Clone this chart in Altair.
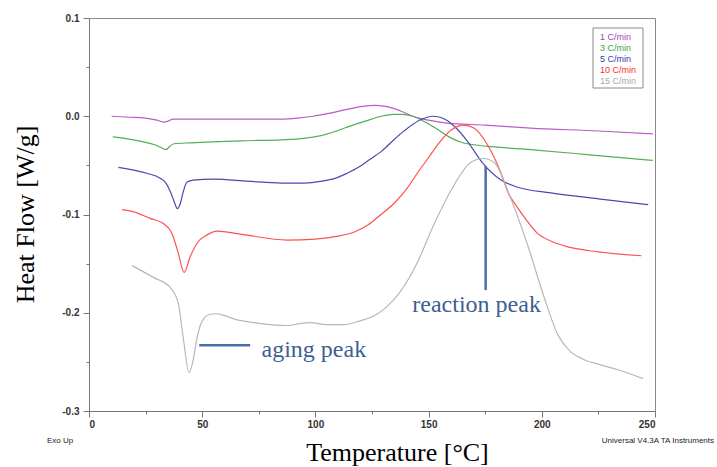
import altair as alt
import pandas as pd

series = ["1 C/min", "3 C/min", "5 C/min", "10 C/min", "15 C/min"]
line_colors = ["#b95cc8", "#55ad55", "#4a4aae", "#ff5050", "#b8b8b8"]
legend_colors = ["#a840b8", "#3fa03f", "#3838a8", "#ff2a2a", "#a8a8a8"]

t1 = [10, 18, 25, 30, 33, 35, 37, 50, 70, 85, 92, 99, 106, 114, 121, 126, 131, 137, 143, 150, 158, 175, 195, 225, 249]
h1 = [0.0, -0.001, -0.002, -0.004, -0.006, -0.005, -0.003, -0.003, -0.003, -0.003, -0.002, 0.0, 0.003, 0.007, 0.010, 0.011, 0.010, 0.006, 0.0, -0.004, -0.007, -0.009, -0.012, -0.015, -0.018]

t3 = [10.5, 17, 24, 29, 32, 34, 35.5, 37.5, 45, 67, 85, 95, 102, 108, 114, 122, 129, 134.5, 138, 143, 147, 153, 159, 165, 170, 178, 195, 220, 249]
h3 = [-0.021, -0.023, -0.026, -0.029, -0.032, -0.034, -0.031, -0.028, -0.027, -0.025, -0.024, -0.0225, -0.020, -0.016, -0.011, -0.005, 0.0, 0.002, 0.002, 0.0, -0.004, -0.012, -0.021, -0.027, -0.029, -0.031, -0.034, -0.039, -0.045]

t5 = [13, 25.5, 31.4, 34, 36, 37.8, 39, 40.3, 41.5, 43.3, 46, 55, 70, 85, 95, 103, 109, 114, 119, 124, 129, 137, 146, 152, 158, 163, 167, 174, 182, 189, 204, 225, 247]
h5 = [-0.052, -0.058, -0.063, -0.068, -0.077, -0.088, -0.094, -0.089, -0.078, -0.067, -0.065, -0.064, -0.066, -0.068, -0.068, -0.066, -0.063, -0.058, -0.052, -0.044, -0.036, -0.019, -0.004, 0.0, -0.004, -0.014, -0.025, -0.048, -0.065, -0.072, -0.078, -0.084, -0.090]

t10 = [14.6, 19.5, 27, 32.7, 36.6, 39.4, 42, 44.7, 47.8, 52, 56.6, 66.8, 87.6, 100, 110, 117, 123, 129, 135, 140, 145, 150, 155, 160, 165.5, 170, 176, 182, 185, 189, 193, 198, 205, 211.5, 225, 244]
h10 = [-0.095, -0.097, -0.104, -0.109, -0.119, -0.139, -0.159, -0.143, -0.129, -0.121, -0.117, -0.120, -0.126, -0.125, -0.122, -0.118, -0.111, -0.100, -0.088, -0.075, -0.058, -0.042, -0.026, -0.014, -0.009, -0.012, -0.029, -0.058, -0.077, -0.092, -0.105, -0.119, -0.128, -0.133, -0.138, -0.142]

t15 = [19, 28.4, 35.8, 39.4, 41.6, 44.2, 46.2, 47.5, 49, 51, 53.5, 56, 60, 65, 70, 80, 88, 93, 98, 105, 113, 120, 126, 131, 137, 145, 152, 160, 168.6, 174, 179, 186, 194, 201, 207, 212, 218, 226, 233.6, 244.7]
h15 = [-0.152, -0.164, -0.174, -0.190, -0.225, -0.261, -0.246, -0.228, -0.214, -0.205, -0.2015, -0.201, -0.203, -0.207, -0.209, -0.212, -0.213, -0.211, -0.210, -0.212, -0.212, -0.208, -0.203, -0.195, -0.180, -0.149, -0.112, -0.075, -0.047, -0.043, -0.047, -0.082, -0.133, -0.184, -0.222, -0.238, -0.247, -0.253, -0.258, -0.267]

all_t = [t1, t3, t5, t10, t15]
all_h = [h1, h3, h5, h10, h15]

rows = []
for name, ts, hs in zip(series, all_t, all_h):
    for t, h in zip(ts, hs):
        rows.append({"series": name, "t": t, "hf": h})
df = pd.DataFrame(rows)

x_ticks = [i * 12.5 for i in range(21)]
y_ticks = [round(0.1 - i * 0.025, 3) for i in range(17)]

major_y = "abs(datum.value*10 - round(datum.value*10)) < 0.001"
major_x = "datum.value % 50 === 0"

x_enc = alt.X(
    "t:Q",
    scale=alt.Scale(domain=[0, 250], nice=False, zero=False),
    axis=alt.Axis(
        values=x_ticks,
        labelExpr="datum.value % 50 === 0 ? '' + datum.value : ''",
        tickSize={"condition": {"test": major_x, "value": 6}, "value": 3},
        labelPadding=2,
        title="Temperature [°C]",
        titleX=308,
        titleY=41,
        titleAlign="center",
        titleBaseline="middle",
        grid=False,
    ),
)
y_enc = alt.Y(
    "hf:Q",
    scale=alt.Scale(domain=[-0.3, 0.1], nice=False, zero=False),
    axis=alt.Axis(
        values=y_ticks,
        labelExpr=major_y + " ? replace(format(datum.value, '.1f'), '\u2212', '-') : ''",
        tickSize={"condition": {"test": major_y, "value": 6}, "value": 3},
        labelPadding=4,
        title="Heat Flow [W/g]",
        titleX=-64,
        titleY=196,
        titleAngle=-90,
        titleAlign="center",
        titleBaseline="middle",
        grid=False,
    ),
)

lines = alt.Chart(df).mark_line(strokeWidth=1.2, interpolate="monotone").encode(
    x=x_enc,
    y=y_enc,
    color=alt.Color("series:N", scale=alt.Scale(domain=series, range=line_colors), legend=None),
    detail="series:N",
)

# annotations (data coordinates)
ann_col = "#4a6fa8"
ann_lines = pd.DataFrame({
    "x": [48.7, 175.2], "x2": [71.2, 175.2],
    "y": [-0.233, -0.0507], "y2": [-0.233, -0.177],
})
rules = alt.Chart(ann_lines).mark_rule(color=ann_col, strokeWidth=2.5).encode(
    x="x:Q", x2="x2:Q", y="y:Q", y2="y2:Q"
)
ann_text = pd.DataFrame({
    "x": [99.3, 171.2], "y": [-0.238, -0.192], "label": ["aging peak", "reaction peak"]
})
texts = alt.Chart(ann_text).mark_text(
    font="Liberation Serif", fontSize=24, color="#3d5f92", align="center", baseline="middle"
).encode(x="x:Q", y="y:Q", text="label:N")

# legend box
one = pd.DataFrame({"a": [0]})
legend_box = alt.Chart(one).mark_rect(fill="white", stroke="#8a8a8a", strokeWidth=1).encode(
    x=alt.value(504), x2=alt.value(554), y=alt.value(10), y2=alt.value(70)
)
legend_layers = []
for i, (name, c) in enumerate(zip(series, legend_colors)):
    legend_layers.append(
        alt.Chart(pd.DataFrame({"name": [name]})).mark_text(
            font="Liberation Sans", fontSize=9, color=c, align="left", baseline="middle"
        ).encode(x=alt.value(511), y=alt.value(19 + 11 * i), text="name:N")
    )

foot = alt.Chart(pd.DataFrame({"l": ["Exo Up"]})).mark_text(
    font="Liberation Sans", fontSize=8, color="#222", align="left", baseline="middle"
).encode(x=alt.value(-42), y=alt.value(423), text="l:N")
foot2 = alt.Chart(pd.DataFrame({"l": ["Universal V4.3A TA Instruments"]})).mark_text(
    font="Liberation Sans", fontSize=8, color="#222", align="right", baseline="middle"
).encode(x=alt.value(625), y=alt.value(423), text="l:N")

chart = alt.layer(
    lines, rules, texts, legend_box, *legend_layers, foot, foot2
).properties(
    width=566,
    height=393,
    autosize=alt.AutoSizeParams(type="none"),
    padding={"left": 89, "top": 18, "right": 62, "bottom": 56},
).configure_view(
    stroke="#8a8a8a", strokeWidth=1
).configure_axis(
    domainColor="#777777",
    tickColor="#777777",
    labelFont="Liberation Sans",
    labelFontSize=10,
    labelFontWeight="bold",
    labelColor="#333333",
    titleFont="Liberation Serif",
    titleFontSize=26,
    titleFontWeight="normal",
    titleColor="black",
)

chart.save("out.html", embed_options={"renderer": "svg", "actions": False})
